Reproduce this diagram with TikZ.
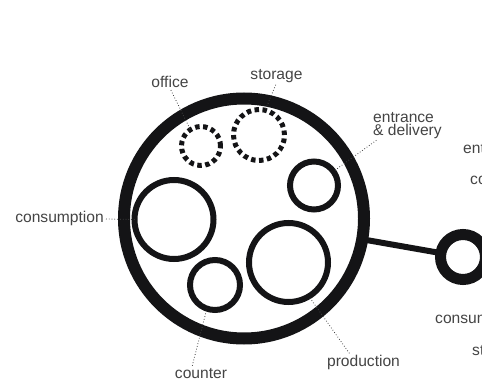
\documentclass[tikz,border=0pt]{standalone}
\usepackage{fontspec}
\setmainfont{Liberation Sans}
\usepackage{tikz}
\usetikzlibrary{positioning}
\definecolor{inkdark}{RGB}{20,20,22}
\definecolor{labelgray}{RGB}{68,68,68}

\begin{document}
\begin{tikzpicture}[x=1pt,y=-1pt,room/.style={circle,draw=inkdark,line width=6pt,inner sep=0pt,outer sep=0pt},shell/.style={room,line width=12pt},store/.style={room,line width=5pt,dash pattern=on 4.5pt off 3.5pt},lbl/.style={font=\fontsize{15.6}{13.4}\selectfont,text=labelgray,inner sep=0pt,anchor=base},leader/.style={draw=labelgray,line width=0.8pt,dotted,shorten <=2pt}]
\useasboundingbox (0,0) rectangle (482,382);
\clip (0,0) rectangle (482,382);
% shop outline and neighbour
\node[shell,minimum size=240pt] (hall) at (244,218.5) {};
\node[shell,line width=11pt,minimum size=45pt] (hub) at (463,257) {};
\draw[draw=inkdark,line width=6pt] (hall) -- (hub);
% rooms
\node[room,minimum size=79pt] (cons) at (174,219.5) {};
\node[room,minimum size=79pt] (prod) at (288.5,262.5) {};
\node[room,minimum size=48pt] (entr) at (314,185.5) {};
\node[room,minimum size=50pt] (ctr) at (215,285) {};
\node[store,minimum size=39pt] (offc) at (201,146) {};
\node[store,minimum size=51pt] (stor) at (259,135) {};
% labels
\node[lbl] (offlbl) at (170,88) {office};
\node[lbl] (storlbl) at (276.5,79.5) {storage};
\node[lbl,anchor=north west,align=left] (entlbl) at (373,112) {entrance\\\& delivery};
\node[lbl,anchor=base east] (conslbl) at (104,223) {consumption};
\node[lbl] (ctrlbl) at (201,378) {counter};
\node[lbl] (prodlbl) at (363.5,366.5) {production};
\draw[leader] (offlbl.south) -- (offc.123);
\draw[leader] (storlbl.south) -- (stor.76);
\draw[leader] ([xshift=5pt]entlbl.south west) -- (entr.36);
\draw[leader] (conslbl.east) -- (cons.west);
\draw[leader] (ctrlbl.150) -- (ctr.251);
\draw[leader] (prodlbl.150) -- (prod.-59);
% next plan, cut off at the edge
\node[lbl,anchor=base west] (nent) at (463,154) {entrance};
\node[lbl,anchor=base west] (nctr) at (470,185) {counter};
\node[lbl,anchor=base west] (ncons) at (435,323) {consumption};
\node[lbl,anchor=base west] (nstor) at (472,355) {storage};
\end{tikzpicture}
\end{document}
